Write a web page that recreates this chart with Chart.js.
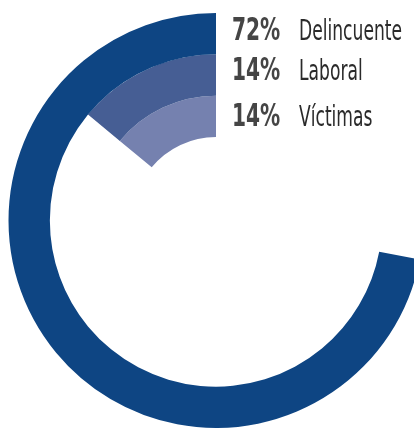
<!DOCTYPE html>
<html>
<head>
<meta charset="utf-8">
<script src="https://cdn.jsdelivr.net/npm/chart.js@4.4.0/dist/chart.umd.min.js"></script>
<style>
  html, body { margin: 0; padding: 0; background: #fff; overflow: hidden; width: 414px; height: 430px; }
  #wrap { position: absolute; left: 0; top: 0; width: 432px; height: 441px; }
  .row { position: absolute; left: 232px; white-space: nowrap; font-family: "DejaVu Sans Condensed", sans-serif; }
  .pct { position: absolute; left: 0; top: 0; font-weight: bold; font-size: 32px; color: #454545; transform: scaleX(0.70); transform-origin: left top; }
  .lab { position: absolute; left: 67px; top: 4px; font-size: 28px; color: #2a2a2a; transform: scaleX(0.68); transform-origin: left top; }
</style>
</head>
<body>
<div id="wrap"><canvas id="rings"></canvas></div>
<div id="labels"></div>
<script>
// Shares per category (percent), outer ring first
const categories = ["Delincuente", "Laboral", "Víctimas"];
const shares = [72, 14, 14];
const colors = ["#0e4583", "#465e94", "#7581af"];

// Build one ring per category: a transparent rest, then the coloured share ending at 12 o'clock
const datasets = shares.map((v, i) => ({
    data: [100 - v, v],
    backgroundColor: ["rgba(0,0,0,0)", colors[i]],
    borderWidth: 0,
    weight: 1
}));

new Chart(document.getElementById("rings"), {
    type: "doughnut",
    data: { labels: ["", ""], datasets: datasets },
    options: {
        responsive: true,
        maintainAspectRatio: false,
        animation: false,
        cutout: "40.2%",
        layout: { padding: 8.5 },
        events: [],
        plugins: { legend: { display: false }, tooltip: { enabled: false } }
    }
});

// Text labels on the top right
const labelBox = document.getElementById("labels");
const rowTops = [10, 50, 96];
categories.forEach((name, i) => {
    const row = document.createElement("div");
    row.className = "row";
    row.style.top = rowTops[i] + "px";
    row.innerHTML = '<span class="pct">' + shares[i] + '%</span><span class="lab">' + name + '</span>';
    labelBox.appendChild(row);
});
</script>
</body>
</html>
